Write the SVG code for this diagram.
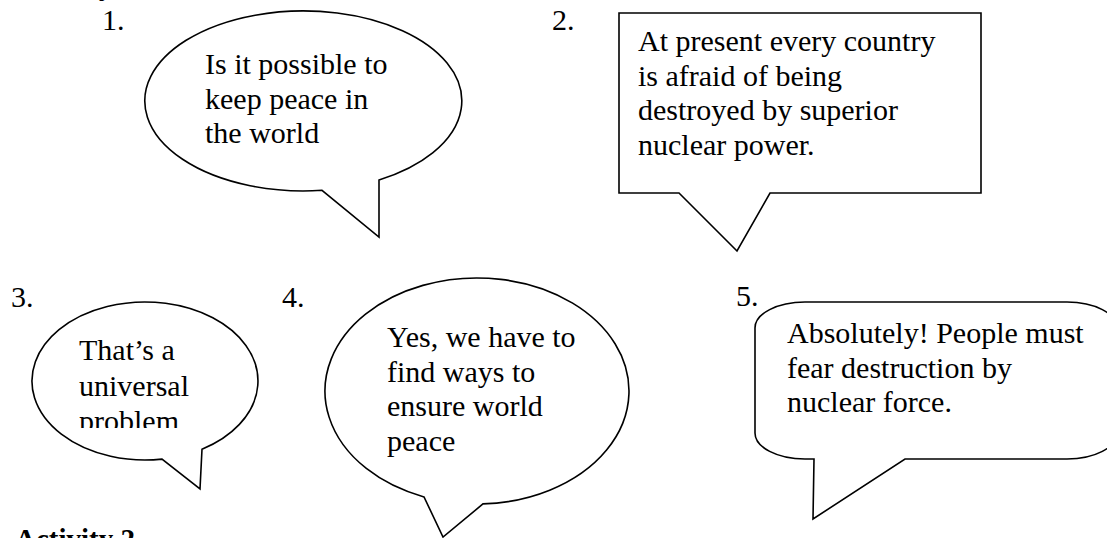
<svg xmlns="http://www.w3.org/2000/svg" width="1107" height="538" viewBox="0 0 1107 538">
<style>
.b{fill:#fff;stroke:#000;stroke-width:1.6;stroke-linejoin:miter}
.t{font-family:"Liberation Serif","Times New Roman",serif;font-size:30px;fill:#000}
.h{font-family:"Liberation Serif","Times New Roman",serif;font-size:29px;font-weight:bold;fill:#000}
</style>
<defs>
<clipPath id="c3"><rect x="0" y="0" width="300" height="428"/></clipPath>
</defs>
<rect width="1107" height="538" fill="#fff"/>
<text class="h" x="15" y="-5">Activity 1</text>
<g id="labels">
<text class="t" x="102" y="30">1.</text>
<text class="t" x="552" y="30">2.</text>
<text class="t" x="11" y="307">3.</text>
<text class="t" x="282" y="307">4.</text>
<text class="t" x="736" y="306">5.</text>
</g>
<g id="connectors"></g>
<g id="bubble1">
<path class="b" d="M 379 180 A 158.5 90 0 1 0 322 190.3 L 379 237 Z"/>
<text class="t" x="205" y="74">Is it possible to</text>
<text class="t" x="205" y="108.5">keep peace in</text>
<text class="t" x="205" y="143">the world</text>
</g>
<g id="bubble2">
<path class="b" d="M 619 13 H 981 V 193 H 770 L 737 251 L 679 193 H 619 Z"/>
<text class="t" x="638" y="51">At present every country</text>
<text class="t" x="638" y="85.5">is afraid of being</text>
<text class="t" x="638" y="120">destroyed by superior</text>
<text class="t" x="638" y="154.5">nuclear power.</text>
</g>
<g id="bubble3">
<path class="b" d="M 202 449.2 A 113 79 0 1 0 162 459.1 L 200 489 Z"/>
<g clip-path="url(#c3)">
<text class="t" x="79" y="359.5">That’s a</text>
<text class="t" x="79" y="395.5">universal</text>
<text class="t" x="79" y="431">problem</text>
</g>
</g>
<g id="bubble4">
<path class="b" d="M 483 503.9 A 152 113 0 1 0 424 496.9 L 443 537 Z"/>
<text class="t" x="387" y="347">Yes, we have to</text>
<text class="t" x="387" y="381.5">find ways to</text>
<text class="t" x="387" y="416">ensure world</text>
<text class="t" x="387" y="450.5">peace</text>
</g>
<g id="bubble5">
<path class="b" d="M 805 302 H 1067 A 50 26 0 0 1 1117 328 V 433 A 50 26 0 0 1 1067 459 H 905 L 813 519 L 814 459 H 805 A 50 26 0 0 1 755 433 V 328 A 50 26 0 0 1 805 302 Z"/>
<text class="t" x="787" y="343">Absolutely! People must</text>
<text class="t" x="787" y="377.5">fear destruction by</text>
<text class="t" x="787" y="412">nuclear force.</text>
</g>
<text class="h" x="15" y="549">Activity 2</text>
</svg>
